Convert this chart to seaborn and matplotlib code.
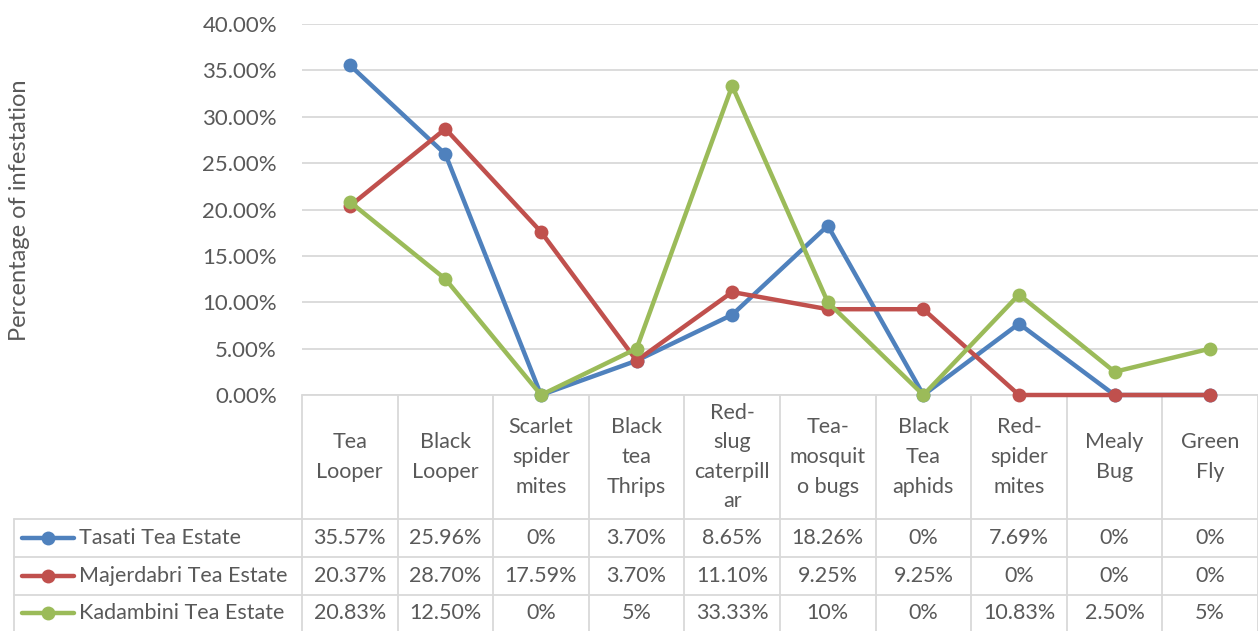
import matplotlib
matplotlib.use("Agg")
import matplotlib.pyplot as plt
from matplotlib.lines import Line2D
from matplotlib.ticker import PercentFormatter
import pandas as pd
import seaborn as sns

# Pest categories (as wrapped in the data-table header)
categories = ["Tea\nLooper", "Black\nLooper", "Scarlet\nspider\nmites", "Black\ntea\nThrips",
              "Red-\nslug\ncaterpill\nar", "Tea-\nmosquit\no bugs", "Black\nTea\naphids",
              "Red-\nspider\nmites", "Mealy\nBug", "Green\nFly"]

estates = ["Tasati Tea Estate", "Majerdabri Tea Estate", "Kadambini Tea Estate"]

tasati = ["35.57%", "25.96%", "0%", "3.70%", "8.65%", "18.26%", "0%", "7.69%", "0%", "0%"]
majerdabri = ["20.37%", "28.70%", "17.59%", "3.70%", "11.10%", "9.25%", "9.25%", "0%", "0%", "0%"]
kadambini = ["20.83%", "12.50%", "0%", "5%", "33.33%", "10%", "0%", "10.83%", "2.50%", "5%"]

y_ticks = [0, 5, 10, 15, 20, 25, 30, 35, 40]

colors = ["#4F81BD", "#C0504D", "#9BBB59"]
series_text = [tasati, majerdabri, kadambini]

sns.set_style("white")
plt.rcParams["font.family"] = ["Lato", "DejaVu Sans"]

W, H = 1258, 631
fig = plt.figure(figsize=(W / 100, H / 100), dpi=100)


def fx(px):
    return px / W


def fy(py):
    return 1 - py / H


# plot area
left, right, top, bottom = 302, 1258, 24, 395
ax = fig.add_axes([fx(left), fy(bottom), fx(right) - fx(left), fy(top) - fy(bottom)])
ax.set_zorder(2)
ax.patch.set_alpha(0)

rows = []
for name, texts in zip(estates, series_text):
    for i, t in enumerate(texts):
        rows.append({"estate": name, "x": i, "value": float(t.rstrip("%"))})
df = pd.DataFrame(rows)

sns.lineplot(data=df, x="x", y="value", hue="estate", palette=colors, marker="o",
             markersize=10, markeredgewidth=0, linewidth=3.2, ax=ax, legend=False,
             clip_on=False, zorder=3)

grid_c = "#D9D9D9"
text_c = "#595959"
fs = 15.5

ax.set_xlim(-0.5, len(categories) - 0.5)
ax.set_ylim(0, 40)
ax.set_yticks(y_ticks)
ax.yaxis.set_major_formatter(PercentFormatter(decimals=2))
ax.tick_params(axis="y", length=0, labelsize=16, labelcolor=text_c, pad=18)
ax.set_xticks([])
ax.set_xlabel("")
ax.set_ylabel("")
ax.grid(axis="y", color=grid_c, linewidth=1.3)
ax.set_axisbelow(True)
for s in ["top", "right", "left", "bottom"]:
    ax.spines[s].set_visible(False)

fig.text(fx(20), fy(210), "Percentage of infestation", rotation=90, ha="center",
         va="center", fontsize=17, color=text_c)

# data table beneath the plot
col_w = (right - left) / len(categories)
row_top = [519, 557, 595]
row_bot = [557, 595, 631]
table_left = 14
lw = 1.3


def hline(x0, x1, y):
    fig.add_artist(Line2D([fx(x0), fx(x1)], [fy(y), fy(y)], color=grid_c, lw=lw, zorder=0))


def vline(x, y0, y1):
    fig.add_artist(Line2D([fx(x), fx(x)], [fy(y0), fy(y1)], color=grid_c, lw=lw, zorder=0))


hline(left, right, bottom)
for y in row_top:
    hline(table_left, right, y)
for k in range(len(categories) + 1):
    vline(left + k * col_w, bottom, H)
vline(table_left, row_top[0], H)

for i, cat in enumerate(categories):
    fig.text(fx(left + (i + 0.5) * col_w), fy((bottom + row_top[0]) / 2), cat,
             ha="center", va="center", fontsize=fs, color=text_c, linespacing=1.6)

for r, (name, texts, c) in enumerate(zip(estates, series_text, colors)):
    yc = fy((row_top[r] + row_bot[r]) / 2)
    fig.add_artist(Line2D([fx(22), fx(74)], [yc, yc], color=c, lw=3.2, solid_capstyle="round"))
    fig.add_artist(Line2D([fx(48)], [yc], color=c, marker="o", markersize=10, markeredgewidth=0))
    fig.text(fx(79), yc, name, ha="left", va="center", fontsize=fs, color=text_c)
    for i, t in enumerate(texts):
        fig.text(fx(left + (i + 0.5) * col_w), yc, t, ha="center", va="center",
                 fontsize=fs, color=text_c)

fig.savefig("out.png", dpi=100)
